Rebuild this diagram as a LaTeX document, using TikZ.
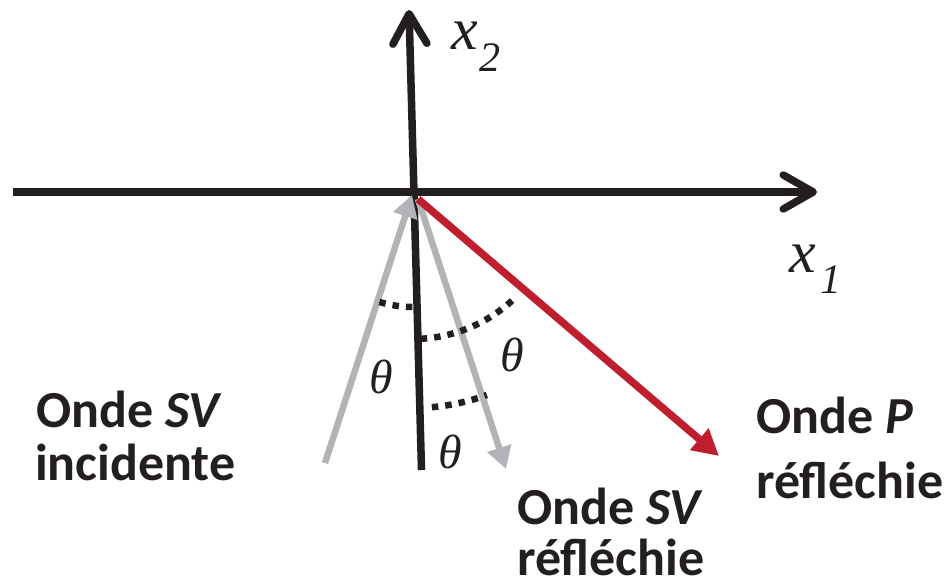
\documentclass[tikz,border=0pt]{standalone}
\usepackage{fontspec}
\setmainfont{Liberation Serif}
\newfontfamily\lblfont{Carlito}
\usetikzlibrary{arrows.meta,calc}
\definecolor{inkblack}{HTML}{231F20}
\definecolor{wavegray}{HTML}{B1B3B6}
\definecolor{wavered}{HTML}{BE1E2D}
\tikzset{
  axisline/.style={draw=inkblack, line width=7.5pt, -{Straight Barb[length=30pt,width=34pt,line cap=round,line join=round]}},
  normalline/.style={draw=inkblack, line width=7pt},
  grayarrow/.style={draw=wavegray, line width=6.5pt, -{Triangle[length=22pt,width=24pt]}},
  redarrow/.style={draw=wavered, line width=7.5pt, line join=miter, -{Triangle[length=26pt,width=27pt]}},
  anglearc/.style={draw=inkblack, line width=6.5pt, dash pattern=on 6.5pt off 7pt},
  lbl/.style={inner sep=0pt, anchor=base west, text depth=0pt, text=inkblack, font=\lblfont\bfseries\fontsize{52}{52}\selectfont},
  mathlbl/.style={inner sep=0pt, anchor=base west, text=inkblack},
  thetalbl/.style={inner sep=0pt, text=inkblack, font=\itshape\fontsize{48}{48}\selectfont},
}
\begin{document}
\begin{tikzpicture}[x=1pt,y=-1pt]
\useasboundingbox (0,0) rectangle (952,586);
% key points
\coordinate (O) at (413,192);
\coordinate (xl) at (13,192);
\coordinate (xr) at (817,192);
\coordinate (yt) at (409,10);
\coordinate (yb) at (421.5,470);
\coordinate (inS) at (325,463);
\coordinate (inE) at (412,195);
\coordinate (rS) at (418,199);
\coordinate (svE) at (506,469);
\coordinate (pE) at (719,456);
% axes
\draw[axisline] (xl) -- (xr);
\draw[axisline] (yb) -- (yt);
% waves
\draw[grayarrow] (inS) -- (inE);
\draw[grayarrow] (rS) -- (svE);
\draw[redarrow] (rS) -- (pE);
% angle arcs
\draw[anglearc] ($(O)+(107:115)$) arc[start angle=107, end angle=90, radius=115];
\draw[anglearc] ($(O)+(87:147)$) arc[start angle=87, end angle=46, radius=147];
\draw[anglearc] ($(O)+(85:216)$) arc[start angle=85, end angle=70, radius=216];
% theta labels
\node[thetalbl] (th1) at (381,377) {θ};
\node[thetalbl] (th2) at (512,355) {θ};
\node[thetalbl] (th3) at (450,452) {θ};
% axis labels
\node[mathlbl] (x2) at (451,50) {\itshape\fontsize{60}{60}\selectfont x\kern2pt\raisebox{-21pt}{\fontsize{42}{42}\selectfont 2}};
\node[mathlbl] (x1) at (789,272) {\itshape\fontsize{60}{60}\selectfont x\kern5pt\raisebox{-21pt}{\fontsize{42}{42}\selectfont 1}};
% wave labels
\node[lbl] (svin1) at (36,427) {Onde \textit{SV}};
\node[lbl] (svin2) at (35,480) {incidente};
\node[lbl] (svre1) at (517,524) {Onde \textit{SV}};
\node[lbl] (svre2) at (517,575) {réfléchie};
\node[lbl] (pre1) at (756,433) {Onde \textit{P}};
\node[lbl] (pre2) at (756,498) {réfléchie};
\end{tikzpicture}
\end{document}
